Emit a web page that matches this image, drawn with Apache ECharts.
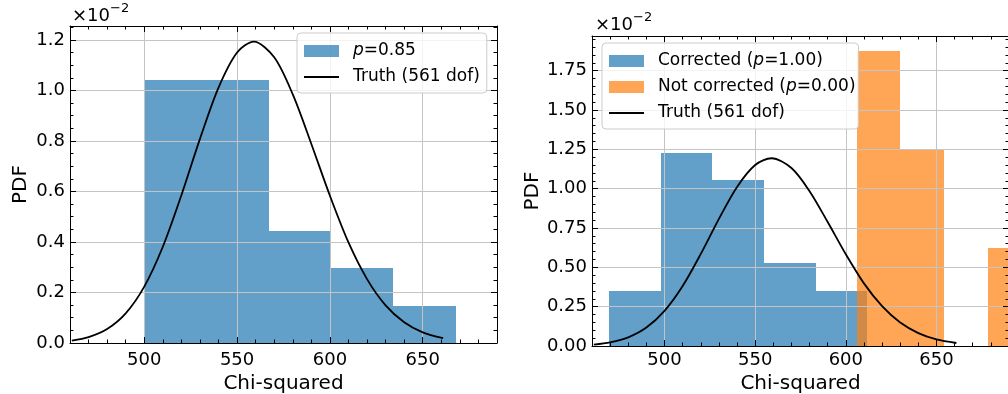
<!DOCTYPE html>
<html>
<head>
<meta charset="utf-8">
<script src="https://cdn.jsdelivr.net/npm/echarts@6/dist/echarts.min.js"></script>
<style>
  html, body { margin: 0; padding: 0; background: #fff; overflow: hidden; }
  #chart { width: 1008px; height: 394px; }
</style>
</head>
<body>
<div id="chart"></div>
<script>
// values are in units of 1e-2 (the axes show a x10^-2 offset)
const X_MIN = 460;
const X_MAX = 690;

// left panel: one histogram + truth curve
const leftEdges = [500, 533.55, 567.1, 600.65, 634.2, 667.75];
const leftHeights = [1.04, 1.04, 0.443, 0.295, 0.146];
const leftLabel = 'p=0.85';

// right panel: corrected / not corrected histograms
const blueEdges = [469.4, 497.9, 526.4, 554.8, 583.3, 611.7];
const blueHeights = [0.349, 1.229, 1.052, 0.526, 0.349];
const orangeEdges = [605.9, 630.0, 654.2, 678.3, 702.5];
const orangeHeights = [1.877, 1.253, 0, 0.625];
const blueLabel = 'Corrected (p=1.00)';
const orangeLabel = 'Not corrected (p=0.00)';

// chi-squared truth curve (561 dof)
const truthLabel = 'Truth (561 dof)';
const truthX = [461, 470, 480, 490, 500, 510, 520, 530, 540, 550, 559, 570, 580, 590, 600, 610, 620, 630, 640, 650, 661];
const truthY = [0.009, 0.023, 0.055, 0.117, 0.223, 0.381, 0.585, 0.808, 1.011, 1.150, 1.193, 1.131, 0.984, 0.788, 0.583, 0.398, 0.253, 0.149, 0.082, 0.042, 0.019];

const leftYMax = 1.255;
const rightYMax = 1.97;
const leftYStep = 0.2;
const rightYStep = 0.25;

const FONT = 'DejaVu Sans';
const BLUE = 'rgba(31,119,180,0.7)';
const ORANGE = 'rgba(255,127,14,0.7)';
const LINE_ICON = 'path://M0,0 L35,0 L35,1.8 L0,1.8 Z';

const chart = echarts.init(document.getElementById('chart'));

function toBins(edges, heights) {
  return heights.map((h, i) => [edges[i], edges[i + 1], h]);
}

// snap to whole pixels so neighbouring translucent bins don't leave seams
function renderBin(params, api) {
  const top = api.coord([api.value(0), api.value(2)]);
  const bottom = api.coord([api.value(1), 0]);
  const x0 = Math.round(top[0]);
  const x1 = Math.round(bottom[0]);
  const y0 = Math.round(top[1]);
  const y1 = Math.round(bottom[1]);
  return {
    type: 'rect',
    shape: { x: x0, y: y0, width: x1 - x0, height: y1 - y0 },
    style: { fill: api.visual('color') },
  };
}

const tickStyle = { color: '#000', width: 1 };

function xAxes(g, labelMargin, nameGap) {
  const base = {
    gridIndex: g, type: 'value', min: X_MIN, max: X_MAX, z: 3,
    axisLine: { onZero: false, lineStyle: { color: '#000', width: 1 } },
    splitLine: { show: false },
    axisLabel: { show: false },
  };
  return [
    {
      ...base, position: 'bottom', splitNumber: 5,
      axisTick: { inside: true, length: 6, lineStyle: tickStyle },
      axisLabel: { show: true, fontSize: 18, color: '#000', fontFamily: FONT, margin: labelMargin, showMinLabel: false, showMaxLabel: false },
      splitLine: { show: true, lineStyle: { color: '#c4c4c4', width: 1 } },
      name: 'Chi-squared', nameLocation: 'middle', nameGap: nameGap,
      nameTextStyle: { fontSize: 20, color: '#000', fontFamily: FONT },
    },
    { ...base, position: 'bottom', interval: 10, axisLine: { show: false, onZero: false },
      axisTick: { inside: true, length: 3.5, lineStyle: tickStyle } },
    { ...base, position: 'top', splitNumber: 5,
      axisTick: { inside: true, length: 6, lineStyle: tickStyle } },
    { ...base, position: 'top', interval: 10, axisLine: { show: false, onZero: false },
      axisTick: { inside: true, length: 3.5, lineStyle: tickStyle } },
  ];
}

function yAxes(g, max, step, digits, nameGap) {
  const base = {
    gridIndex: g, type: 'value', min: 0, max: max, z: 3,
    axisLine: { onZero: false, lineStyle: { color: '#000', width: 1 } },
    splitLine: { show: false },
    axisLabel: { show: false },
  };
  return [
    {
      ...base, position: 'left', interval: step,
      axisTick: { inside: true, length: 6, lineStyle: tickStyle },
      axisLabel: { show: true, fontSize: 18, color: '#000', fontFamily: FONT, margin: 5, showMaxLabel: false,
        formatter: (v) => v.toFixed(digits) },
      splitLine: { show: true, lineStyle: { color: '#c4c4c4', width: 1 } },
      name: 'PDF', nameLocation: 'middle', nameGap: nameGap,
      nameTextStyle: { fontSize: 20, color: '#000', fontFamily: FONT },
    },
    { ...base, position: 'left', interval: 0.05, axisLine: { show: false, onZero: false },
      axisTick: { inside: true, length: 3.5, lineStyle: tickStyle } },
    { ...base, position: 'right', interval: step,
      axisTick: { inside: true, length: 6, lineStyle: tickStyle } },
    { ...base, position: 'right', interval: 0.05, axisLine: { show: false, onZero: false },
      axisTick: { inside: true, length: 3.5, lineStyle: tickStyle } },
  ];
}

function legendFor(left, top, names, padRight) {
  return {
    orient: 'vertical', left: left, top: top,
    data: names,
    itemWidth: 35, itemHeight: 12, itemGap: 6,
    padding: [8, padRight, 6, 7],
    backgroundColor: 'rgba(255,255,255,0.8)',
    borderColor: '#cccccc', borderWidth: 1, borderRadius: 4,
    selectedMode: false,
    formatter: (n) => n.replace('p=', '{i|p}='),
    textStyle: {
      fontFamily: FONT, fontSize: 17, color: '#000', lineHeight: 20, padding: [0, 0, 0, 9],
      rich: { i: { fontFamily: FONT, fontSize: 17, fontStyle: 'italic', color: '#000', lineHeight: 20 } },
    },
  };
}

const truthData = truthX.map((x, i) => [x, truthY[i]]);

function truthSeries(xi, yi) {
  return {
    name: truthLabel, type: 'line', xAxisIndex: xi, yAxisIndex: yi,
    data: truthData, smooth: 0.3, symbol: 'none', showSymbol: false, z: 5,
    lineStyle: { color: '#000', width: 1.8 },
    itemStyle: { color: '#000' },
  };
}

function offsetText(x, y) {
  return [
    { type: 'text', left: x, top: y, z: 10,
      style: { text: '\u00d710', fontSize: 18, fontFamily: FONT, fill: '#000' } },
    { type: 'text', left: x + 38, top: y - 5, z: 10,
      style: { text: '\u22122', fontSize: 13, fontFamily: FONT, fill: '#000' } },
  ];
}

const lineLegendItem = { name: truthLabel, icon: LINE_ICON, itemStyle: { color: '#000' } };

const option = {
  animation: false,
  backgroundColor: '#fff',
  grid: [
    { left: 70, top: 26, width: 427, height: 317, containLabel: false, outerBoundsMode: 'none' },
    { left: 592, top: 36, width: 417, height: 310, containLabel: false, outerBoundsMode: 'none' },
  ],
  xAxis: [...xAxes(0, 8, 28), ...xAxes(1, 5, 24)],
  yAxis: [...yAxes(0, leftYMax, leftYStep, 1, 39), ...yAxes(1, rightYMax, rightYStep, 2, 47)],
  legend: [
    legendFor(297, 33, [{ name: leftLabel, icon: 'rect' }, lineLegendItem], 7),
    legendFor(602, 43, [{ name: blueLabel, icon: 'rect' }, { name: orangeLabel, icon: 'rect' }, lineLegendItem], 3),
  ],
  graphic: [...offsetText(72, 7), ...offsetText(595, 16)],
  series: [
    {
      name: leftLabel, type: 'custom', xAxisIndex: 0, yAxisIndex: 0,
      renderItem: renderBin, encode: { x: [0, 1], y: 2 },
      itemStyle: { color: BLUE }, data: toBins(leftEdges, leftHeights), z: 2,
    },
    truthSeries(0, 0),
    {
      name: blueLabel, type: 'custom', xAxisIndex: 4, yAxisIndex: 4,
      renderItem: renderBin, encode: { x: [0, 1], y: 2 },
      itemStyle: { color: BLUE }, data: toBins(blueEdges, blueHeights), z: 2,
    },
    {
      name: orangeLabel, type: 'custom', xAxisIndex: 4, yAxisIndex: 4,
      renderItem: renderBin, encode: { x: [0, 1], y: 2 },
      itemStyle: { color: ORANGE }, data: toBins(orangeEdges, orangeHeights), z: 2,
    },
    truthSeries(4, 4),
  ],
};

chart.setOption(option);
window.addEventListener('resize', () => chart.resize());
</script>
</body>
</html>
